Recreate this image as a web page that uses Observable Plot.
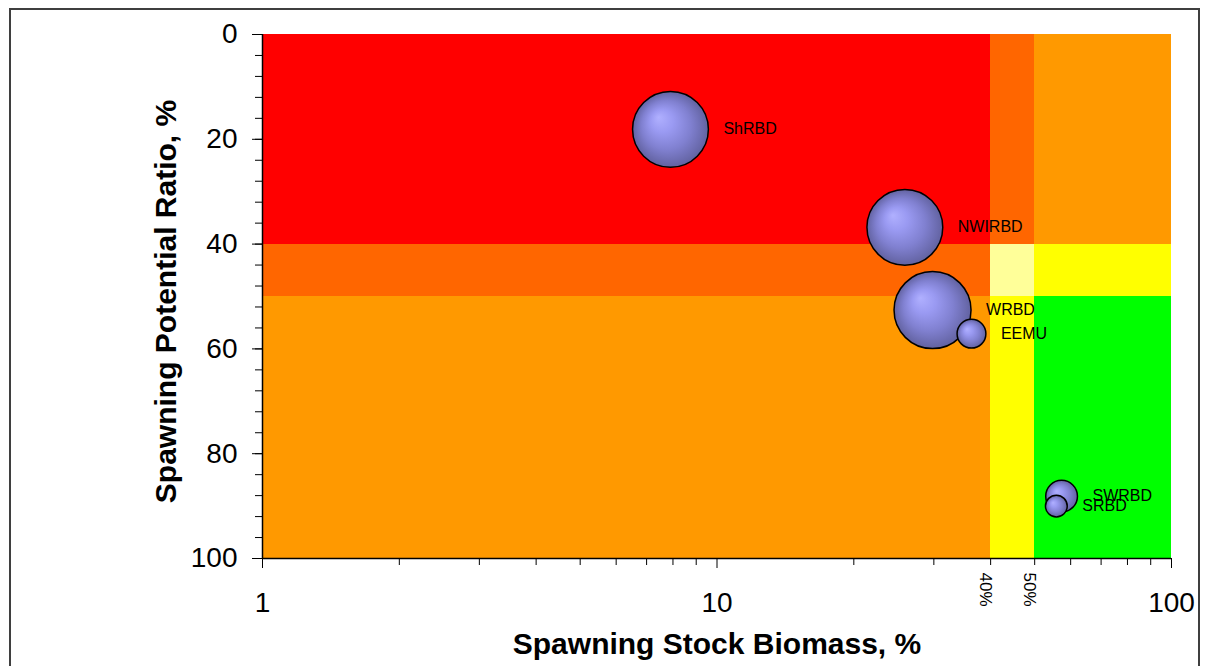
<!DOCTYPE html>
<html><head><meta charset="utf-8">
<script src="https://cdn.jsdelivr.net/npm/d3@7"></script>
<script src="https://cdn.jsdelivr.net/npm/@observablehq/plot@0.6"></script>
<style>
body{margin:0;background:#fff;}
#wrap{position:relative;width:1210px;height:666px;overflow:hidden;font-family:Arial,"Liberation Sans",sans-serif;}
#border{position:absolute;left:9px;top:8px;width:1187px;height:700px;border:2px solid #3f3f3f;pointer-events:none;}
</style></head><body>
<div id="wrap"><div id="chart"></div><div id="border"></div></div>
<script>
// ---- data ----
const stocks = ["ShRBD", "NWIRBD", "WRBD", "EEMU", "SWRBD", "SRBD"];
const ssb = [7.9, 25.9, 29.8, 36.3, 57.3, 55.8];      // Spawning Stock Biomass, %
const spr = [18.1, 36.8, 52.6, 57.1, 88.1, 90.0];     // Spawning Potential Ratio, %
const bubbleSize = [97, 97, 100, 14, 17, 8];          // relative bubble size

const ssbBreaks = [1, 40, 50, 100];
const sprBreaks = [0, 40, 50, 100];
const zoneKeys = ["0-0", "0-1", "0-2", "1-1", "1-2", "2-2"];
const zoneColors = ["#FF0000", "#FF6600", "#FF9900", "#FFFF99", "#FFFF00", "#00FF00"];

const refValues = [40, 50];
const refLabels = ["40%", "50%"];

const xMajorTicks = [1, 10, 100];
const xMinorTicks = [2,3,4,5,6,7,8,9,20,30,40,50,60,70,80,90];
const yMajorTicks = [0, 20, 40, 60, 80, 100];
const yMinorTicks = d3.range(0, 101, 4);

// ---- derived ----
const zones = [];
for (let i = 0; i < 3; i++) for (let j = 0; j < 3; j++) {
  zones.push({x1: ssbBreaks[i], x2: ssbBreaks[i+1], y1: sprBreaks[j], y2: sprBreaks[j+1], key: [i, j].sort().join("-")});
}
const idx = stocks.map((_, i) => i);
const rMax = 38.5;
const rOf = (v) => rMax * Math.sqrt(v / 100);

const font = "Arial, 'Liberation Sans', sans-serif";

const marks = [
  Plot.rect(zones, {x1: "x1", x2: "x2", y1: "y1", y2: "y2", fill: "key", inset: 0, shapeRendering: "crispEdges"}),
  Plot.axisX(xMinorTicks, {tickSize: 7, tickFormat: () => "", strokeWidth: 1}),
  Plot.axisX(xMajorTicks, {tickSize: 10, tickPadding: 24, fontSize: 28, tickFormat: d => String(d), strokeWidth: 1}),
  Plot.axisY(yMinorTicks, {tickSize: 7, tickFormat: () => "", strokeWidth: 1}),
  Plot.axisY(yMajorTicks, {tickSize: 10, tickPadding: 15, fontSize: 28, tickFormat: d => String(d), strokeWidth: 1}),
  Plot.ruleX([1], {stroke: "black", strokeWidth: 1.5}),
  Plot.ruleY([100], {stroke: "black", strokeWidth: 1.5}),
  Plot.dot(idx, {x: i => ssb[i], y: i => spr[i], r: i => bubbleSize[i], fill: "url(#bubbleGrad)", stroke: "black", strokeWidth: 1.5}),
  ...idx.map(i => Plot.text([i], {x: j => ssb[j], y: j => spr[j], text: j => stocks[j], textAnchor: "start",
      dx: rOf(bubbleSize[i]) + 15, fontSize: 16, fill: "black", letterSpacing: "-0.5px"})),
  Plot.text(refValues, {x: d => d, text: (d, i) => refLabels[i], frameAnchor: "bottom", rotate: 90,
      textAnchor: "start", lineAnchor: "middle", dy: 14, dx: -5, fontSize: 17, fill: "black"}),
  Plot.text(["Spawning Stock Biomass, %"], {frameAnchor: "bottom", textAnchor: "middle", lineAnchor: "middle",
      dy: 86, fontSize: 30, fontWeight: "bold", fill: "black"}),
  Plot.text(["Spawning Potential Ratio, %"], {frameAnchor: "left", textAnchor: "middle", lineAnchor: "middle",
      rotate: -90, dx: -96, dy: 5, fontSize: 30, fontWeight: "bold", fill: "black"})
];

const chart = Plot.plot({
  width: 1210,
  height: 666,
  marginLeft: 262,
  marginRight: 39,
  marginTop: 34,
  marginBottom: 108,
  style: {fontFamily: font, background: "white", color: "black", overflow: "visible"},
  x: {type: "log", domain: [1, 100], axis: null},
  y: {domain: [0, 100], reverse: true, axis: null},
  r: {type: "sqrt", domain: [0, 100], range: [0, rMax]},
  color: {type: "ordinal", domain: zoneKeys, range: zoneColors},
  marks
});

const svg = d3.select(chart);
const defs = svg.insert("defs", ":first-child");
const g = defs.append("radialGradient").attr("id", "bubbleGrad")
  .attr("cx", "0.5").attr("cy", "0.5").attr("r", "0.5").attr("fx", "0.34").attr("fy", "0.34");
[["0%", "#b0b0ff"], ["30%", "#9a9af2"], ["65%", "#8080d0"], ["100%", "#6262a0"]]
  .forEach(([o, c]) => g.append("stop").attr("offset", o).attr("stop-color", c));

document.getElementById("chart").appendChild(chart);
</script>
</body></html>
